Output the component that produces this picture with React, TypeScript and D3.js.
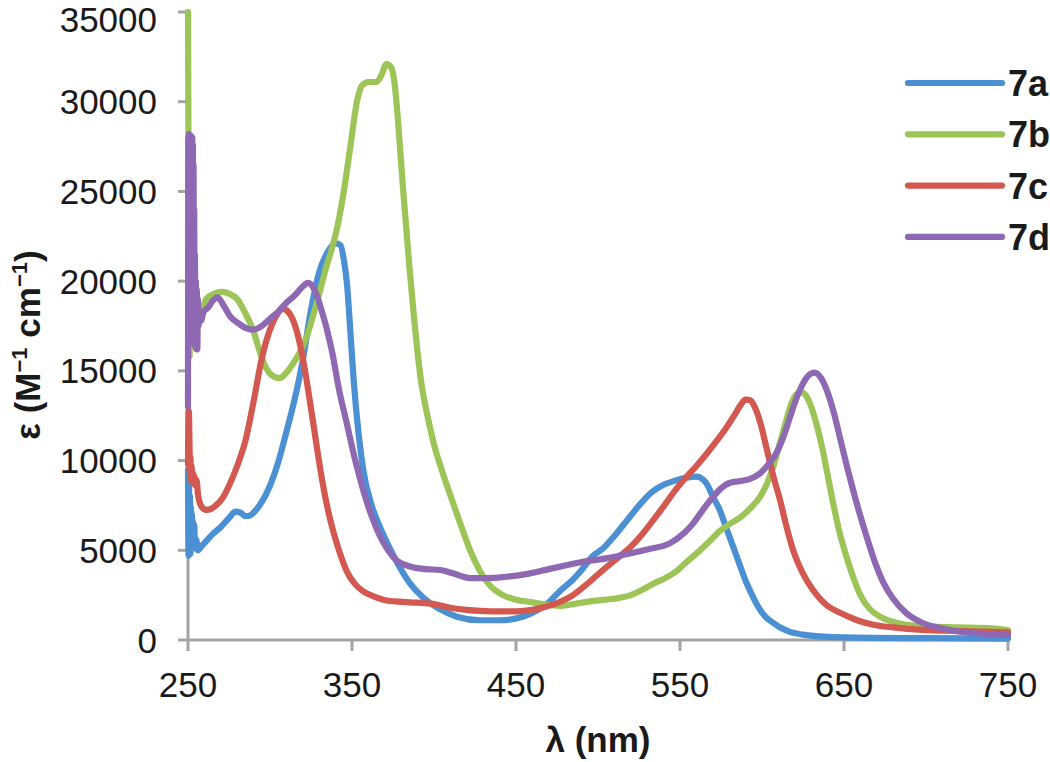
import React from "react";
import * as d3 from "d3";

const xTicks = [250, 350, 450, 550, 650, 750];
const yTicks = [0, 5000, 10000, 15000, 20000, 25000, 30000, 35000];
const seriesNames = ["7a", "7b", "7c", "7d"];
const seriesColors = ["#4A90D3", "#9DC456", "#D3584F", "#8E68B3"];

const s7a: [number, number][] = [[250,9500],[250.3,4700],[250.6,8600],[250.9,5000],[251.2,8000],[251.5,4800],[251.8,7400],[252.1,5300],[252.4,7000],[252.7,5400],[253,6600],[253.4,5100],[253.8,6400],[254.3,5200],[255,5600],[256,5000],[258,5200],[261,5500],[265,5900],[270,6300],[275,6800],[279,7150],[282,7100],[285,6900],[288,6950],[291,7200],[295,7700],[300,8600],[305,9900],[310,11600],[316,13800],[320,15600],[325,18400],[330,20500],[335,21600],[340,22100],[343,22000],[345,21200],[347,19800],[349,17200],[351,14500],[354,11500],[357,9400],[362,7500],[367,6300],[372,5300],[377,4400],[385,3200],[393,2400],[403,1750],[414,1300],[428,1100],[440,1100],[454,1300],[463,1650],[470,2100],[477,2750],[484,3300],[490,3900],[497,4700],[503,5100],[510,5800],[518,6700],[526,7600],[533,8250],[540,8650],[548,8900],[554,9050],[560,9100],[564,8950],[567,8600],[570,8000],[574,7300],[578,6300],[582,5300],[586,4300],[590,3300],[594,2500],[598,1800],[602,1300],[607,950],[612,650],[617,450],[625,300],[635,200],[650,150],[700,100],[750,80]];

const s7b: [number, number][] = [[250,35000],[250.2,30000],[250.4,24000],[250.6,19000],[250.8,16000],[251,15800],[251.3,21000],[251.6,17500],[251.9,20500],[252.2,17800],[252.6,20000],[253,18500],[253.5,19600],[254,18600],[255,19200],[256,18600],[258,18300],[261,19000],[266,19300],[271,19400],[275,19300],[280,19000],[285,18200],[290,17200],[294,16000],[298,15100],[302,14700],[306,14600],[310,14900],[314,15400],[318,16000],[322,16800],[326,18000],[330,19300],[334,20700],[338,21900],[341,23000],[345,25000],[349,27500],[353,30000],[356,30900],[360,31100],[365,31100],[368,31500],[371,32100],[374,31900],[376,31000],[378,29000],[381,25300],[385,20800],[388,17800],[392,14500],[396,12500],[400,10900],[405,9400],[410,8050],[416,6500],[422,5000],[428,3850],[434,3050],[442,2500],[450,2250],[460,2100],[470,1950],[478,1900],[485,2000],[495,2150],[505,2250],[513,2350],[520,2500],[527,2800],[534,3150],[541,3450],[548,3850],[554,4350],[561,4900],[568,5500],[574,6050],[580,6450],[587,6850],[593,7350],[599,8000],[603,8700],[607,9700],[611,11000],[615,12300],[618,13200],[621,13700],[624,13800],[627,13600],[630,13000],[633,12100],[637,10600],[640,9200],[643,7800],[647,6100],[652,4500],[656,3400],[660,2500],[666,1700],[672,1300],[680,1000],[688,850],[700,760],[720,700],[740,650],[750,550]];

const s7c: [number, number][] = [[250,9800],[250.3,12800],[250.6,12600],[250.9,11000],[251.2,9200],[251.5,10200],[251.8,8900],[252.2,9700],[252.6,8800],[253,9300],[253.5,8700],[254,9100],[254.6,8600],[255.3,8900],[256,8200],[257,7700],[258.5,7400],[261,7250],[264,7300],[267,7500],[271,7900],[275,8600],[280,9700],[285,11100],[290,13300],[295,15700],[300,17300],[304,18100],[308,18450],[311,18300],[315,17600],[318,16600],[321,15200],[324,13500],[327,11700],[330,9900],[333,8300],[337,6600],[341,5300],[347,3800],[352,3100],[357,2700],[364,2400],[371,2200],[385,2100],[398,2030],[410,1800],[420,1680],[435,1600],[450,1600],[460,1680],[468,1850],[475,2050],[483,2400],[493,3100],[503,3900],[513,4650],[520,5200],[527,5900],[533,6600],[540,7450],[548,8450],[554,9100],[560,9700],[566,10350],[572,11050],[578,11800],[583,12500],[587,13100],[590,13400],[593,13350],[596,12900],[599,12100],[603,10600],[607,9100],[611,7800],[615,6300],[619,5000],[625,3700],[631,2800],[640,1900],[648,1500],[658,1100],[668,850],[680,700],[698,560],[720,500],[740,450],[750,430]];

const s7d: [number, number][] = [[250,13000],[250.2,28000],[250.4,17500],[250.6,28200],[250.8,17200],[251,28000],[251.2,17800],[251.4,27800],[251.6,17000],[251.8,28100],[252,17500],[252.2,27900],[252.4,17200],[252.6,28000],[252.8,17000],[253,27600],[253.2,16800],[253.4,26500],[253.6,16500],[253.8,24000],[254,16800],[254.2,21500],[254.5,16300],[254.8,20000],[255.1,16200],[255.4,19500],[255.7,16200],[256,19000],[256.4,17500],[257,18200],[258,17800],[259.5,18300],[262,18500],[265,18900],[268,19100],[272,18600],[276,18000],[280,17700],[285,17400],[290,17300],[295,17500],[300,17900],[305,18300],[310,18800],[315,19200],[320,19700],[323,19900],[326,19700],[329,19100],[332,18200],[335,17200],[338,16000],[342,14000],[347,12000],[352,10000],[357,8300],[362,6900],[367,5800],[372,5000],[377,4450],[382,4200],[387,4050],[395,3950],[404,3900],[412,3700],[422,3450],[432,3450],[442,3500],[458,3700],[470,3950],[480,4150],[490,4350],[505,4550],[518,4800],[530,5050],[544,5400],[553,6000],[558,6500],[562,7000],[566,7500],[570,7950],[575,8450],[580,8750],[586,8850],[592,8950],[599,9300],[604,9800],[608,10300],[613,11300],[617,12400],[622,13700],[627,14600],[632,14900],[636,14600],[640,13800],[644,12600],[648,11100],[652,9600],[656,8200],[660,6900],[664,5700],[669,4300],[674,3200],[680,2300],[688,1500],[698,950],[708,680],[718,500],[729,390],[740,320],[750,280]];

const allSeries = [s7a, s7b, s7c, s7d];

const FONT = "'Liberation Sans', Arial, Helvetica, sans-serif";
const AXIS = "#A3A3A3";
const TEXT = "#1a1a1a";

export default function App() {
  const x = d3.scaleLinear().domain([250, 750]).range([188, 1008]);
  const y = d3.scaleLinear().domain([0, 35000]).range([640, 12]);
  const line = d3
    .line<[number, number]>()
    .x((d) => x(d[0]))
    .y((d) => y(d[1]))
    .curve(d3.curveMonotoneX);

  return (
    <svg
      width={1050}
      height={762}
      style={{ position: "absolute", left: 0, top: 0, background: "#fff" }}
      fontFamily={FONT}
    >
      <rect x={0} y={0} width={1050} height={762} fill="#fff" />
      <line x1={x(250)} x2={x(250)} y1={y(35000)} y2={y(0)} stroke={AXIS} strokeWidth={3} />
      <line x1={x(250) - 1.5} x2={x(750)} y1={y(0)} y2={y(0)} stroke={AXIS} strokeWidth={3} />
      {yTicks.map((t) => (
        <g key={"y" + t}>
          <line x1={x(250) - 10} x2={x(250)} y1={y(t)} y2={y(t)} stroke={AXIS} strokeWidth={3} />
          <text x={157} y={Math.max(y(t), 19.5)} dy="0.36em" textAnchor="end" fontSize={35} fill={TEXT}>
            {t}
          </text>
        </g>
      ))}
      {xTicks.map((t) => (
        <g key={"x" + t}>
          <line x1={x(t)} x2={x(t)} y1={y(0)} y2={y(0) + 11} stroke={AXIS} strokeWidth={3} />
          <text x={x(t)} y={697} textAnchor="middle" fontSize={35} fill={TEXT}>
            {t}
          </text>
        </g>
      ))}
      {allSeries.map((s, i) => (
        <path
          key={seriesNames[i]}
          d={line(s) || ""}
          fill="none"
          stroke={seriesColors[i]}
          strokeWidth={6.2}
          strokeLinejoin="round"
          strokeLinecap="round"
        />
      ))}
      <text x={598} y={752} textAnchor="middle" fontSize={35} fontWeight="bold" fill={TEXT}>
        λ (nm)
      </text>
      <text
        transform="translate(40,345) rotate(-90)"
        textAnchor="middle"
        fontSize={35}
        fontWeight="bold"
        fill={TEXT}
      >
        ε (M
        <tspan fontSize={22} dy={-13}>−1</tspan>
        <tspan dy={13}> cm</tspan>
        <tspan fontSize={22} dy={-13}>−1</tspan>
        <tspan dy={13}>)</tspan>
      </text>
      {seriesNames.map((n, i) => (
        <g key={"leg" + n}>
          <line
            x1={908}
            x2={1002}
            y1={83 + i * 51.3}
            y2={83 + i * 51.3}
            stroke={seriesColors[i]}
            strokeWidth={6.2}
            strokeLinecap="round"
          />
          <text x={1008} y={83 + i * 51.3 + 13} fontSize={36} fontWeight="bold" fill={TEXT}>
            {n}
          </text>
        </g>
      ))}
    </svg>
  );
}
